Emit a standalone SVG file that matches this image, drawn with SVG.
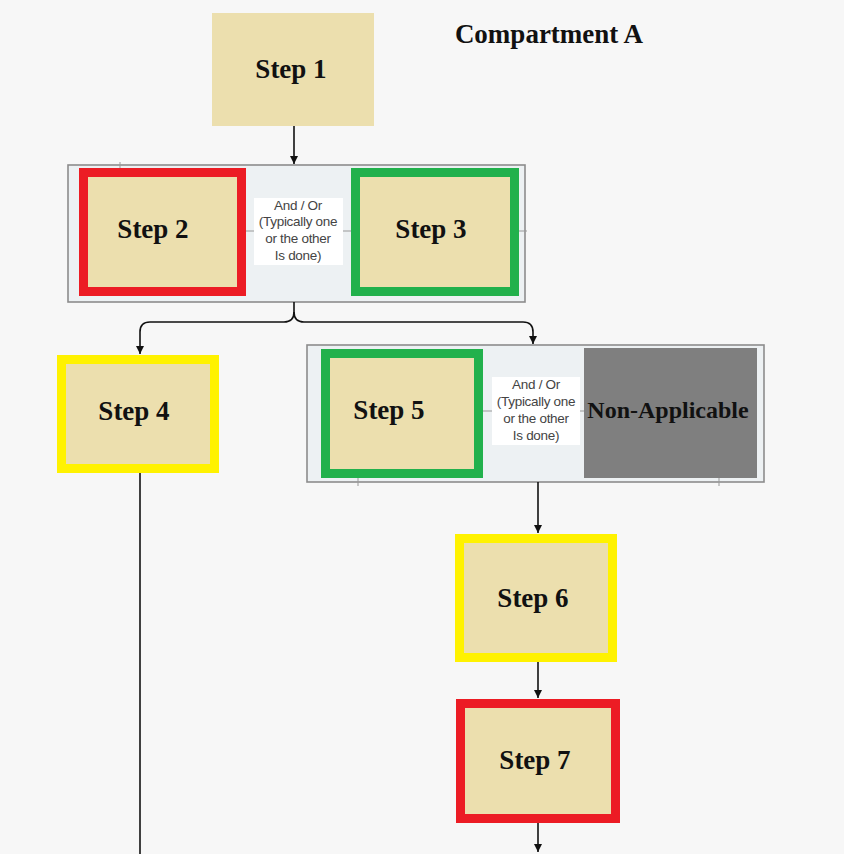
<svg xmlns="http://www.w3.org/2000/svg" width="844" height="854" viewBox="0 0 844 854">
<defs>
<style>
.bg{fill:#f7f7f7}
.step{fill:#ecdfae}
.red{stroke:#ec1c24;stroke-width:9;fill:#ecdfae}
.green{stroke:#22b14c;stroke-width:9;fill:#ecdfae}
.yellow{stroke:#fff200;stroke-width:9;fill:#ecdfae}
.cont{fill:#edf1f3;stroke:#8c8c8c;stroke-width:1.6}
.lab{fill:#ffffff}
.t{font-family:"Liberation Serif","Times New Roman",serif;font-weight:bold;font-size:27px;fill:#111;text-anchor:middle}
.s{font-family:"Liberation Sans",Arial,sans-serif;font-size:13.5px;letter-spacing:-0.3px;fill:#444;text-anchor:middle}
.con{fill:none;stroke:#111;stroke-width:1.6}
.tick{stroke:#999;stroke-width:1}
</style>
<marker id="ah" viewBox="0 0 10 10" refX="10" refY="5" markerWidth="8" markerHeight="8" markerUnits="userSpaceOnUse" orient="auto">
<path d="M0,0 L10,5 L0,10 z" fill="#111"/>
</marker>
</defs>
<rect class="bg" x="0" y="0" width="844" height="854"/>
<text class="t" x="549" y="43">Compartment A</text>

<g id="step1">
<rect class="step" x="212" y="13" width="162" height="113"/>
<text class="t" x="291" y="78">Step 1</text>
</g>

<g id="group1">
<rect class="cont" x="68" y="165" width="457" height="137"/>
<line class="tick" x1="120" y1="162" x2="120" y2="168"/>
<line class="tick" x1="246" y1="231" x2="254" y2="231"/>
<line class="tick" x1="343" y1="231" x2="351" y2="231"/>
<line class="tick" x1="519" y1="231" x2="527" y2="231"/>
<g id="step2">
<rect class="red" x="83.5" y="172.5" width="158" height="119"/>
<text class="t" x="153" y="238">Step 2</text>
</g>
<g id="label1">
<rect class="lab" x="254" y="198" width="89" height="67"/>
<text class="s" x="298" y="210">And / Or</text>
<text class="s" x="298" y="226">(Typically one</text>
<text class="s" x="298" y="243">or the other</text>
<text class="s" x="298" y="260">Is done)</text>
</g>
<g id="step3">
<rect class="green" x="355.5" y="172.5" width="159" height="119"/>
<text class="t" x="431" y="238">Step 3</text>
</g>
</g>

<g id="step4">
<rect class="yellow" x="61.5" y="359.5" width="153" height="109"/>
<text class="t" x="134" y="420">Step 4</text>
</g>

<g id="group2">
<rect class="cont" x="307" y="345" width="457" height="137"/>
<line class="tick" x1="358" y1="478" x2="358" y2="486"/>
<line class="tick" x1="719" y1="478" x2="719" y2="486"/>
<line class="tick" x1="483" y1="411" x2="492" y2="411"/>
<line class="tick" x1="580" y1="411" x2="584" y2="411"/>
<g id="step5">
<rect class="green" x="325.5" y="353.5" width="153" height="120"/>
<text class="t" x="389" y="419">Step 5</text>
</g>
<g id="label2">
<rect class="lab" x="492" y="377" width="88" height="68"/>
<text class="s" x="536" y="389">And / Or</text>
<text class="s" x="536" y="406">(Typically one</text>
<text class="s" x="536" y="423">or the other</text>
<text class="s" x="536" y="440">Is done)</text>
</g>
<g id="na">
<rect x="584" y="348" width="173" height="130" fill="#7f7f7f"/>
<text class="t" x="668" y="418" style="font-size:24px">Non-Applicable</text>
</g>
</g>

<g id="step6">
<rect class="yellow" x="459.5" y="538.5" width="153" height="119"/>
<text class="t" x="533" y="607">Step 6</text>
</g>

<g id="step7">
<rect class="red" x="460.5" y="703.5" width="155" height="115"/>
<text class="t" x="535" y="769">Step 7</text>
</g>

<g id="connectors">
<line class="con" x1="294" y1="126" x2="294" y2="164" marker-end="url(#ah)"/>
<path class="con" d="M294,302 V312 Q294,322 284,322 H150 Q140,322 140,332 V354" marker-end="url(#ah)"/>
<path class="con" d="M294,312 Q294,322 304,322 H523 Q533,322 533,332 V344" marker-end="url(#ah)"/>
<line class="con" x1="538" y1="482" x2="538" y2="533" marker-end="url(#ah)"/>
<line class="con" x1="538" y1="662" x2="538" y2="698" marker-end="url(#ah)"/>
<line class="con" x1="538" y1="823" x2="538" y2="852" marker-end="url(#ah)"/>
<line class="con" x1="140" y1="473" x2="140" y2="854"/>
</g>
</svg>
